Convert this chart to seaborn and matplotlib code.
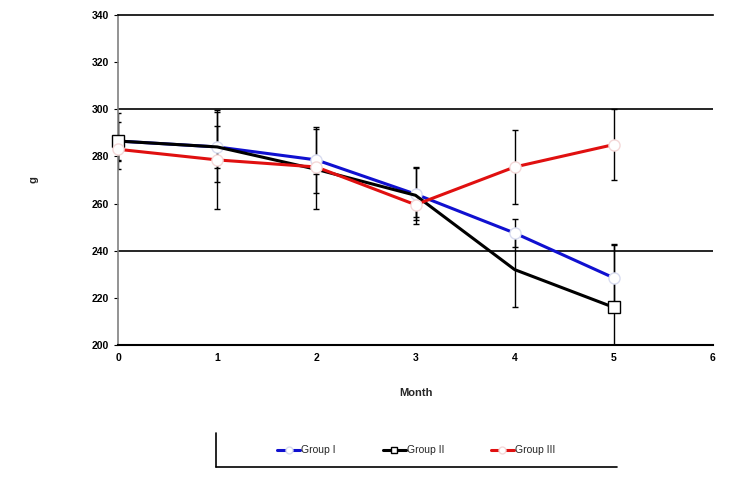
import pandas as pd
import matplotlib
matplotlib.use("Agg")
import matplotlib.pyplot as plt
from matplotlib.lines import Line2D
import seaborn as sns

# values
months = [0, 1, 2, 3, 4, 5]
group1 = [286.5, 284.0, 278.5, 264.0, 247.5, 228.5]
group2 = [286.5, 284.0, 274.5, 263.5, 232.0, 216.0]
group3 = [283.0, 278.5, 275.5, 259.5, 275.5, 285.0]
err1 = [8, 9, 14, 11, 6, 14]
err2 = [12, 15, 17, 12, 16, 27]
err3 = [5, 21, 3, 5, 15.5, 15]

names = ["Group I", "Group II", "Group III"]
colors = ["#1010d0", "#000000", "#e01010"]

df = pd.DataFrame({
    "Month": months * 3,
    "g": group1 + group2 + group3,
    "err": err1 + err2 + err3,
    "group": [n for n in names for _ in months],
})

sns.set_style("white")
plt.rcParams["font.family"] = ["Liberation Sans", "DejaVu Sans"]

fig = plt.figure(figsize=(7.29, 4.78), dpi=100)
ax = fig.add_axes([0.162, 0.278, 0.816, 0.691])

# error bars first so markers sit on top
for name, col in zip(names, colors):
    sub = df[df["group"] == name]
    ax.errorbar(sub["Month"], sub["g"], yerr=sub["err"], fmt="none",
                ecolor="black", elinewidth=1.0, capsize=2, capthick=1.0, zorder=2)

markers = {"Group I": "o", "Group II": "s", "Group III": "o"}
edges = {"Group I": "#d8dcf0", "Group II": "#000000", "Group III": "#f4d8d8"}
marks = {"Group I": None, "Group II": [0, 5], "Group III": None}
for name, col in zip(names, colors):
    sub = df[df["group"] == name]
    sns.lineplot(data=sub, x="Month", y="g", ax=ax, color=col, linewidth=2.2,
                 marker=markers[name], markersize=8, markerfacecolor="white",
                 markeredgecolor=edges[name], markeredgewidth=1, zorder=3,
                 markevery=marks[name], clip_on=False, legend=False)

for yv in [240, 300]:
    ax.axhline(yv, color="black", linewidth=1.2, zorder=1)

ax.set_xlim(0, 6)
ax.set_ylim(200, 340)
ax.set_xticks(range(0, 7))
ax.set_yticks(range(200, 341, 20))
ax.tick_params(axis="both", labelsize=7.5, length=3, direction="out",
               left=True, bottom=True, colors="black")
for lab in ax.get_xticklabels() + ax.get_yticklabels():
    lab.set_fontweight("bold")
ax.tick_params(axis="x", length=0, pad=6)

ax.spines["right"].set_visible(False)
ax.spines["top"].set_color("black")
ax.spines["top"].set_linewidth(1.2)
ax.spines["bottom"].set_color("black")
ax.spines["bottom"].set_linewidth(1.5)
ax.spines["left"].set_color("#808080")
ax.spines["left"].set_linewidth(1.2)

ax.set_xlabel("Month", fontsize=8, fontweight="bold", labelpad=18)
ax.set_ylabel("g", fontsize=8, fontweight="bold", labelpad=38)

handles = [Line2D([0], [0], color=c, linewidth=2.2, marker=markers[n], markersize=5,
                  markerfacecolor="white", markeredgecolor=edges[n])
           for n, c in zip(names, colors)]
fig.legend(handles, names, ncol=3, loc="center", bbox_to_anchor=(0.571, 0.058),
           frameon=False, fontsize=7.5, handlelength=2.2, columnspacing=4.5,
           handletextpad=0.1)
fig.add_artist(Line2D([0.296, 0.296], [0.022, 0.094], color="black", linewidth=1.2))
fig.add_artist(Line2D([0.296, 0.847], [0.022, 0.022], color="black", linewidth=1.2))

fig.savefig("out.png", dpi=100)
